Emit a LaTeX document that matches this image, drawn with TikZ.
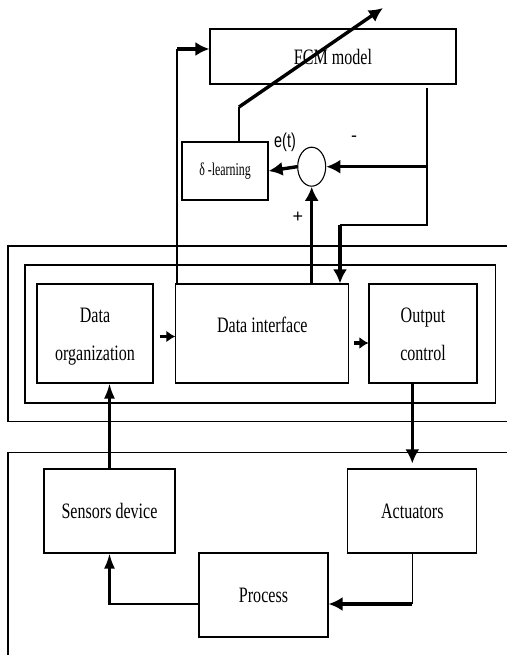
\documentclass[tikz,border=0pt]{standalone}
\usepackage{fontspec}
\setmainfont{Liberation Serif}
\newfontfamily\sansfont{Liberation Sans}
\usepackage{graphicx}
\usetikzlibrary{shapes.geometric,arrows.meta}
\newcommand{\condensed}[2][0.73]{\scalebox{#1}[1]{#2}}

\begin{document}
\begin{tikzpicture}
[every node/.style={inner sep=0pt}, box/.style={rectangle, draw=black, line width=1.1pt, font=\fontsize{22}{38}\selectfont, align=center}, heavy/.style={line width=3.4pt, -{Latex[length=14pt, width=14pt]}}, stub/.style={line width=3.4pt, -{Latex[length=9pt, width=12pt]}}, medium/.style={line width=2.2pt, -{Latex[length=15pt, width=11pt]}}, light/.style={line width=1.2pt}, frame/.style={line width=1.5pt}]
\useasboundingbox (0pt, 0pt) rectangle (507pt, -655pt);
\node (fcm) [box, minimum width=246pt, minimum height=55pt] at (333pt, -56.5pt) {\raisebox{-5pt}{\condensed{FCM model}}};
\node (learn) [box, minimum width=86pt, minimum height=58pt, font=\fontsize{18}{20}\selectfont] at (225pt, -171pt) {\condensed[0.66]{δ -learning}};
\node (sum) [ellipse, draw=black, line width=1.1pt, minimum width=28pt, minimum height=39pt] at (311.7pt, -166.7pt) {};
\node (et) [font=\sansfont\fontsize{20}{22}\selectfont] at (285pt, -142pt) {\condensed[0.72]{e(t)}};
\node (minus) [font=\sansfont\fontsize{18}{20}\selectfont] at (354pt, -139pt) {-};
\node (plus) [font=\sansfont\fontsize{18}{20}\selectfont] at (298pt, -217pt) {+};
\node (org) [box, minimum width=116pt, minimum height=99pt] at (95pt, -333.5pt) {\raisebox{-5pt}{\begin{tabular}{@{}c@{}}\condensed{Data}\\\condensed{organization}\end{tabular}}};
\node (iface) [box, minimum width=173pt, minimum height=99pt] at (262.3pt, -333.5pt) {\raisebox{17pt}{\condensed{Data interface}}};
\node (out) [box, minimum width=108pt, minimum height=99pt] at (423pt, -333.5pt) {\raisebox{-5pt}{\begin{tabular}{@{}c@{}}\condensed{Output}\\\condensed{control}\end{tabular}}};
\node (sens) [box, minimum width=131pt, minimum height=84pt] at (109.5pt, -511pt) {\raisebox{-8pt}{\condensed{Sensors device}}};
\node (act) [box, minimum width=129pt, minimum height=84pt] at (412.3pt, -511pt) {\raisebox{-8pt}{\condensed{Actuators}}};
\node (proc) [box, minimum width=129pt, minimum height=84pt] at (263.5pt, -595pt) {\raisebox{-9pt}{\condensed{Process}}};
\coordinate (up) at (177pt, -49pt);
\coordinate (tail) at (239pt, -107pt);
\coordinate (tip) at (383pt, -8pt);
\coordinate (jn) at (427pt, -166.7pt);
\coordinate (bend) at (427pt, -225pt);
\coordinate (drop) at (340pt, -225pt);
\coordinate (ab) at (412.3pt, -604pt);
\draw [frame] (507pt, -246pt) -- (8pt, -246pt) -- (8pt, -421.7pt) -- (507pt, -421.7pt);
\draw [frame] (25pt, -265pt) rectangle (495.7pt, -403pt);
\draw [frame] (507pt, -452.7pt) -- (8pt, -452.7pt) -- (8pt, -655pt);
\draw [light] (up |- iface.north) -- (up);
\draw [heavy] (up) -- (up -| fcm.west);
\draw [light] (tail |- learn.north) -- (tail);
\draw [heavy] (tail) -- (tip);
\draw [light] ([yshift=-3pt]jn |- fcm.south) -- (bend) -- (drop);
\draw [heavy] (drop) -- (drop |- iface.north);
\draw [heavy] (jn) -- (sum.east);
\draw [heavy] (sum.west) -- (learn.east);
\draw [heavy] (sum |- iface.north) -- (sum.south);
\draw [stub] ([xshift=6pt, yshift=-3pt]org.east) -- ([yshift=-3pt]iface.west);
\draw [stub] ([xshift=5pt, yshift=-9.5pt]iface.east) -- ([yshift=-9.5pt]out.west);
\draw [heavy, shorten >=5pt] (act.north |- out.south) -- (act.north);
\draw [light] (act.south) -- (ab);
\draw [heavy] (ab) -- (ab -| proc.east);
\draw [medium] (ab -| proc.west) -| (sens.south);
\draw [medium] (sens.north) -- (sens.north |- org.south);
\end{tikzpicture}
\end{document}
